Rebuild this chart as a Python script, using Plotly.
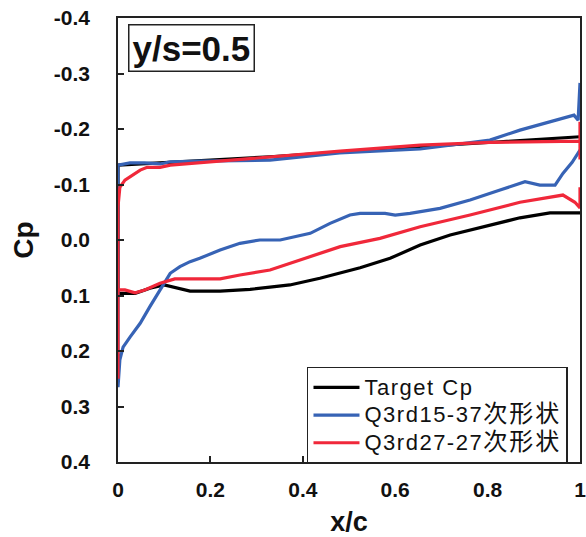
import plotly.graph_objects as go

# ---------------- data ----------------
# Target Cp (black)
tgt_up_x = [0.0, 0.048, 0.113, 0.2, 0.329, 0.48, 0.654, 0.827, 0.913, 1.0]
tgt_up_cp = [-0.135, -0.137, -0.140, -0.144, -0.150, -0.158, -0.168, -0.177, -0.182, -0.186]
tgt_lo_x = [0.0, 0.004, 0.037, 0.069, 0.1, 0.123, 0.156, 0.221, 0.286, 0.329, 0.372, 0.437,
            0.524, 0.589, 0.654, 0.719, 0.805, 0.87, 0.935, 1.0]
tgt_lo_cp = [0.100, 0.096, 0.096, 0.087, 0.081, 0.085, 0.092, 0.092, 0.089, 0.085, 0.081, 0.069,
             0.050, 0.033, 0.009, -0.009, -0.027, -0.040, -0.049, -0.049]

# Q3rd15-37 (blue)
q15_up_x = [0.0, 0.0, 0.004, 0.026, 0.058, 0.091, 0.113, 0.177, 0.329, 0.48, 0.654, 0.805,
            0.87, 0.924, 0.987, 0.996, 1.0]
q15_up_cp = [-0.086, -0.135, -0.135, -0.139, -0.139, -0.137, -0.141, -0.142, -0.144, -0.157,
             -0.164, -0.180, -0.198, -0.211, -0.225, -0.216, -0.283]
q15_lo_x = [0.0, 0.004, 0.011, 0.026, 0.048, 0.069, 0.091, 0.113, 0.134, 0.156, 0.177, 0.221,
            0.264, 0.307, 0.351, 0.372, 0.416, 0.459, 0.502, 0.524, 0.578, 0.6, 0.632, 0.697,
            0.762, 0.827, 0.881, 0.913, 0.946, 0.963, 0.983, 1.0]
q15_lo_cp = [0.265, 0.216, 0.193, 0.175, 0.150, 0.120, 0.090, 0.060, 0.048, 0.039, 0.033, 0.018,
             0.006, 0.000, 0.000, -0.004, -0.012, -0.030, -0.045, -0.048, -0.048, -0.045, -0.048,
             -0.057, -0.072, -0.090, -0.105, -0.099, -0.099, -0.120, -0.140, -0.162]

# Q3rd27-27 (red)
q27_up_x = [0.0, 0.0, 0.004, 0.015, 0.048, 0.063, 0.091, 0.113, 0.177, 0.329, 0.481, 0.654,
            0.805, 1.0, 1.0, 1.0]
q27_up_cp = [0.25, -0.06, -0.095, -0.108, -0.126, -0.131, -0.131, -0.135, -0.139, -0.150,
             -0.160, -0.171, -0.176, -0.178, -0.213, -0.145]
q27_lo_x = [0.0, 0.0, 0.015, 0.037, 0.058, 0.091, 0.123, 0.156, 0.221, 0.264, 0.329, 0.394,
            0.481, 0.567, 0.654, 0.762, 0.87, 0.963, 0.989, 1.0, 1.0]
q27_lo_cp = [0.25, 0.09, 0.09, 0.095, 0.09, 0.078, 0.07, 0.07, 0.07, 0.063, 0.054, 0.036,
             0.012, -0.003, -0.024, -0.045, -0.068, -0.081, -0.068, -0.058, -0.095]

y_ticks = [-0.4, -0.3, -0.2, -0.1, 0.0, 0.1, 0.2, 0.3, 0.4]
y_tick_text = ["-0.4", "-0.3", "-0.2", "-0.1", "0.0", "0.1", "0.2", "0.3", "0.4"]
x_ticks = [0, 0.2, 0.4, 0.6, 0.8, 1.0]
x_tick_text = ["0", "0.2", "0.4", "0.6", "0.8", "1"]

# legend names: latin part + japanese part
name_latin = ["Target Cp", "Q3rd15-37", "Q3rd27-27"]
name_jp = ["", "次形状", "次形状"]
colors = ["#000000", "#3763b5", "#f0283a"]

FONT = "Liberation Sans, Arial, Noto Sans CJK JP, sans-serif"

def legend_label(lat, jp):
    s = '<span style="font-size:22px;letter-spacing:1.5px">' + lat + '</span>'
    if jp:
        s += '<span style="font-size:24px;letter-spacing:2px">' + jp + '</span>'
    return s

def loop(ux, uc, lx, lc):
    # upper surface from TE to LE, then lower surface LE to TE
    return list(reversed(ux)) + lx, list(reversed(uc)) + lc

fig = go.Figure()
series = [
    loop(tgt_up_x, tgt_up_cp, tgt_lo_x, tgt_lo_cp),
    loop(q15_up_x, q15_up_cp, q15_lo_x, q15_lo_cp),
    loop(q27_up_x, q27_up_cp, q27_lo_x, q27_lo_cp),
]
for (xs, cs), lat, jp, c in zip(series, name_latin, name_jp, colors):
    fig.add_trace(go.Scatter(x=xs, y=cs, mode="lines", name=legend_label(lat, jp),
                             line=dict(color=c, width=3.2), cliponaxis=False))

fig.update_layout(
    width=586, height=537,
    margin=dict(l=118, r=6, t=18, b=75),
    plot_bgcolor="white", paper_bgcolor="white",
    font=dict(family=FONT, color="#111111"),
    showlegend=True,
    legend=dict(x=0.974, y=0.214, xanchor="right", yanchor="top",
                bordercolor="#222222", borderwidth=1.5, bgcolor="white",
                font=dict(size=19, family=FONT, color="#111111"),
                tracegroupgap=0, itemwidth=46),
    xaxis=dict(range=[0, 1], tickvals=x_ticks, ticktext=x_tick_text, automargin=False,
               ticks="inside", ticklen=6, tickwidth=1.5, tickcolor="#222222",
               showline=True, linecolor="#222222", linewidth=1.5, mirror=True,
               showgrid=False, zeroline=False, ticklabeloverflow="allow",
               tickfont=dict(size=21, family=FONT, color="#111111", weight="bold"),
               ticklabelstandoff=8,
               title=dict(text="x/c", font=dict(size=27, family=FONT, weight="bold"), standoff=14)),
    yaxis=dict(range=[0.4, -0.4], tickvals=y_ticks, ticktext=y_tick_text, automargin=False,
               ticks="inside", ticklen=6, tickwidth=1.5, tickcolor="#222222",
               showline=True, linecolor="#222222", linewidth=1.5, mirror=True,
               showgrid=False, zeroline=False, ticklabeloverflow="allow",
               tickfont=dict(size=21, family=FONT, color="#111111", weight="bold"),
               ticklabelstandoff=22,
               title=dict(text="Cp", font=dict(size=28, family=FONT, weight="bold"), standoff=12)),
    annotations=[dict(text="y/s=0.5", xref="paper", yref="paper", x=0.0216, y=0.9865,
                      xanchor="left", yanchor="top", showarrow=False,
                      font=dict(size=35, family=FONT, color="#111111", weight="bold"),
                      bordercolor="#222222", borderwidth=1.5, borderpad=3, bgcolor="white")],
)

fig.write_html("out.html", config={"displayModeBar": False},
               post_script="document.body.style.margin='0px';")
